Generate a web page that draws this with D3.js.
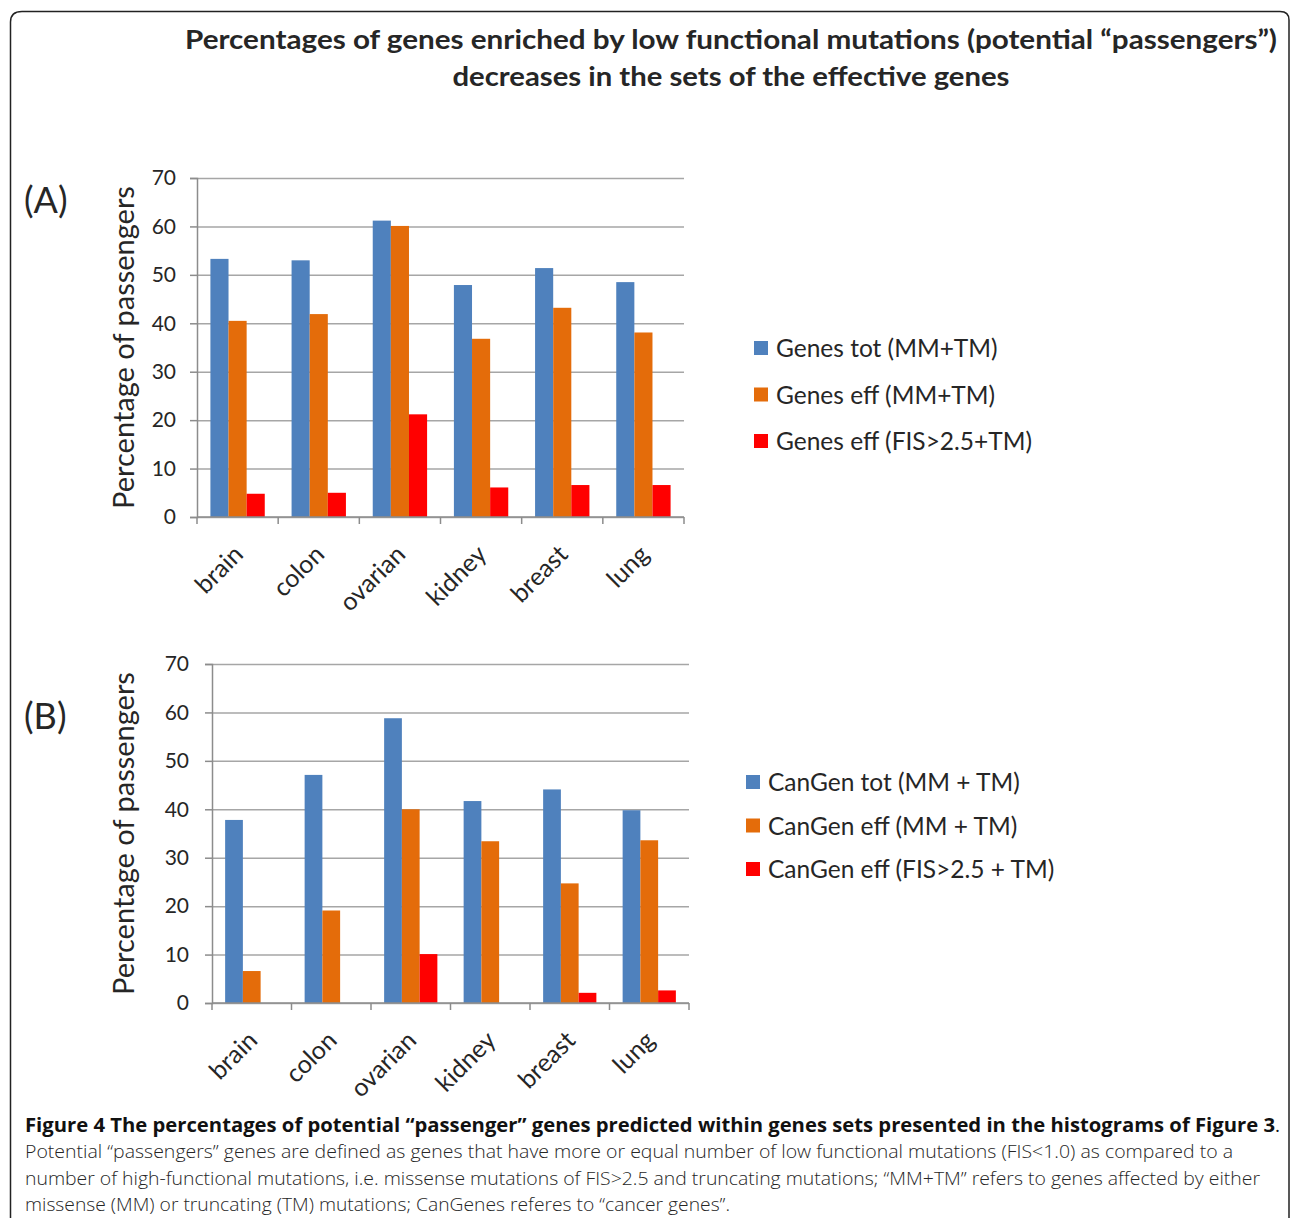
<!DOCTYPE html>
<html>
<head>
<meta charset="utf-8">
<title>Potential passenger genes</title>
<script src="https://cdn.jsdelivr.net/npm/d3@7/dist/d3.min.js"></script>
<style>
body { margin: 0; background: #fff; }
svg { display: block; }
text { font-family: 'Lato', 'Open Sans', sans-serif; fill: #262626; }
.caption { font-family: 'Open Sans', sans-serif; }
</style>
</head>
<body>
<svg id="chart" width="1290" height="1218"></svg>
<script>

// categories and values
var categories = ['brain', 'colon', 'ovarian', 'kidney', 'breast', 'lung'];
var yTicks = [0, 10, 20, 30, 40, 50, 60, 70];

var seriesA = ['Genes tot (MM+TM)', 'Genes eff (MM+TM)', 'Genes eff (FIS>2.5+TM)'];
var genesTotA = [53.3, 53.0, 61.2, 47.9, 51.4, 48.5];
var genesEffA = [40.5, 41.9, 60.1, 36.8, 43.2, 38.1];
var genesFisA = [4.8, 5.0, 21.2, 6.1, 6.6, 6.6];

var seriesB = ['CanGen tot (MM + TM)', 'CanGen eff (MM + TM)', 'CanGen eff (FIS>2.5 + TM)'];
var canGenTotB = [37.8, 47.1, 58.8, 41.7, 44.1, 39.8];
var canGenEffB = [6.6, 19.1, 40.0, 33.4, 24.7, 33.6];
var canGenFisB = [0, 0, 10.1, 0, 2.1, 2.6];

var colors = ['#4f81bd', '#e46c0a', '#ff0000'];

var titleLines = [
	'Percentages of genes enriched by low functional mutations (potential \u201cpassengers\u201d)',
	'decreases in the sets of the effective genes'
];

var captionLines = [
	'Potential \u201cpassengers\u201d genes are defined as genes that have more or equal number of low functional mutations (FIS<1.0) as compared to a',
	'number of high-functional mutations, i.e. missense mutations of FIS>2.5 and truncating mutations; \u201cMM+TM\u201d refers to genes affected by either',
	'missense (MM) or truncating (TM) mutations; CanGenes referes to \u201ccancer genes\u201d.'
];

var svg = d3.select('#chart');

// frame round the figure
svg.append('path')
	.attr('d', 'M10.5,1218 L10.5,22 Q10.5,11.5 22,11.5 L1280,11.5 Q1289,11.5 1289,20 L1289,1218')
	.attr('fill', 'none')
	.attr('stroke', '#222')
	.attr('stroke-width', 1.5);

svg.selectAll('.title')
	.data(titleLines)
	.enter()
	.append('text')
	.attr('class', 'title')
	.attr('x', 731)
	.attr('y', function(d, i) { return 49 + i * 37; })
	.attr('text-anchor', 'middle')
	.attr('font-size', 27)
	.attr('font-weight', 700)
	.attr('textLength', function(d, i) { return i == 0 ? 1092 : 557; })
	.attr('lengthAdjust', 'spacingAndGlyphs')
	.text(function(d) { return d; });

function drawPanel(cfg) {
	var g = svg.append('g');

	var x = d3.scaleBand()
		.domain(categories)
		.range([cfg.x0, cfg.x1])
		.paddingInner(0)
		.paddingOuter(0);

	var xs = d3.scaleBand()
		.domain(d3.range(cfg.series.length))
		.range([0, x.bandwidth()])
		.paddingInner(0)
		.paddingOuter(0.74);

	var y = d3.scaleLinear()
		.domain([0, 70])
		.range([cfg.y0, cfg.yTop]);

	// gridlines
	g.append('g')
		.attr('transform', 'translate(' + cfg.x0 + ',0)')
		.call(d3.axisLeft(y).tickValues(yTicks).tickSize(-(cfg.x1 - cfg.x0)).tickFormat(''))
		.call(function(a) { a.select('.domain').remove(); })
		.selectAll('line')
		.attr('stroke', '#a6a6a6')
		.attr('stroke-width', 1.5);

	// y axis: ticks and labels
	var ya = g.append('g')
		.attr('transform', 'translate(' + cfg.x0 + ',0)')
		.call(d3.axisLeft(y).tickValues(yTicks).tickSize(7).tickPadding(cfg.tickPad));
	ya.select('.domain').attr('stroke', '#8c8c8c').attr('stroke-width', 1.5);
	ya.selectAll('line').attr('stroke', '#8c8c8c').attr('stroke-width', 1.5);
	ya.selectAll('text')
		.attr('font-family', 'Lato, sans-serif')
		.attr('font-size', 21)
		.attr('fill', '#262626');

	// bars
	var rows = categories.map(function(c, i) {
		return cfg.values.map(function(v, s) { return { cat: c, s: s, v: v[i] }; });
	});
	g.selectAll('.grp')
		.data(rows)
		.enter()
		.append('g')
		.attr('transform', function(d) { return 'translate(' + x(d[0].cat) + ',0)'; })
		.selectAll('rect')
		.data(function(d) { return d.filter(function(e) { return e.v > 0; }); })
		.enter()
		.append('rect')
		.attr('x', function(d) { return xs(d.s); })
		.attr('width', xs.bandwidth())
		.attr('y', function(d) { return y(d.v); })
		.attr('height', function(d) { return y(0) - y(d.v); })
		.attr('fill', function(d) { return colors[d.s]; });

	// x axis line and ticks at category boundaries
	g.append('line')
		.attr('x1', cfg.x0).attr('x2', cfg.x1)
		.attr('y1', y(0)).attr('y2', y(0))
		.attr('stroke', '#8c8c8c').attr('stroke-width', 1.5);
	var bounds = categories.map(function(c) { return x(c); }).concat([cfg.x1]);
	g.selectAll('.xtick')
		.data(bounds)
		.enter()
		.append('line')
		.attr('x1', function(d) { return d; }).attr('x2', function(d) { return d; })
		.attr('y1', y(0)).attr('y2', y(0) + 7)
		.attr('stroke', '#8c8c8c').attr('stroke-width', 1.5);

	g.selectAll('.xlab')
		.data(categories)
		.enter()
		.append('text')
		.attr('transform', function(d) {
			return 'translate(' + (x(d) + x.bandwidth() / 2 + 7) + ',' + (y(0) + 39) + ') rotate(-45)';
		})
		.attr('text-anchor', 'end')
		.attr('font-size', 25)
		.text(function(d) { return d; });

	// axis title
	g.append('text')
		.attr('transform', 'translate(' + cfg.titleX + ',' + ((cfg.y0 + cfg.yTop) / 2 + cfg.titleShift) + ') rotate(-90)')
		.attr('text-anchor', 'middle')
		.attr('font-size', 29)
		.text('Percentage of passengers');

	// panel letter
	g.append('text')
		.attr('x', 24)
		.attr('y', cfg.letterY)
		.attr('font-size', 36)
		.text(cfg.letter);

	// legend
	var leg = g.selectAll('.leg')
		.data(cfg.series)
		.enter()
		.append('g')
		.attr('transform', function(d, i) { return 'translate(' + cfg.legX + ',' + (cfg.legY + i * cfg.legStep) + ')'; });
	leg.append('rect')
		.attr('x', 0).attr('y', -7)
		.attr('width', 14).attr('height', 14)
		.attr('fill', function(d, i) { return colors[i]; });
	leg.append('text')
		.attr('x', 22)
		.attr('y', 9)
		.attr('font-size', 24.5)
		.text(function(d) { return d; });
}

drawPanel({
	x0: 197, x1: 684, yTop: 178, y0: 517, tickPad: 14,
	series: seriesA, values: [genesTotA, genesEffA, genesFisA],
	titleX: 134, titleShift: 0, letter: '(A)', letterY: 213,
	legX: 754, legY: 348, legStep: 46.5
});

drawPanel({
	x0: 212, x1: 689, yTop: 664, y0: 1003, tickPad: 16,
	series: seriesB, values: [canGenTotB, canGenEffB, canGenFisB],
	titleX: 134, titleShift: 0, letter: '(B)', letterY: 729,
	legX: 746, legY: 782, legStep: 43.5
});

// caption
var cap = svg.append('text')
	.attr('class', 'caption')
	.attr('x', 25)
	.attr('y', 1132)
	.attr('font-size', 19);
cap.append('tspan')
	.attr('font-weight', 700)
	.attr('fill', '#111')
	.attr('textLength', 1250)
	.attr('lengthAdjust', 'spacingAndGlyphs')
	.text('Figure 4 The percentages of potential \u201cpassenger\u201d genes predicted within genes sets presented in the histograms of Figure 3');
cap.append('tspan')
	.attr('fill', '#111')
	.text('.');

svg.selectAll('.capline')
	.data(captionLines)
	.enter()
	.append('text')
	.attr('class', 'caption')
	.attr('x', 25)
	.attr('y', function(d, i) { return 1158 + i * 26.5; })
	.attr('font-size', 18)
	.attr('font-weight', 300)
	.attr('fill', '#333')
	.attr('textLength', function(d, i) { return [1208, 1235, 705][i]; })
	.attr('lengthAdjust', 'spacingAndGlyphs')
	.text(function(d) { return d; });

</script>
</body>
</html>
